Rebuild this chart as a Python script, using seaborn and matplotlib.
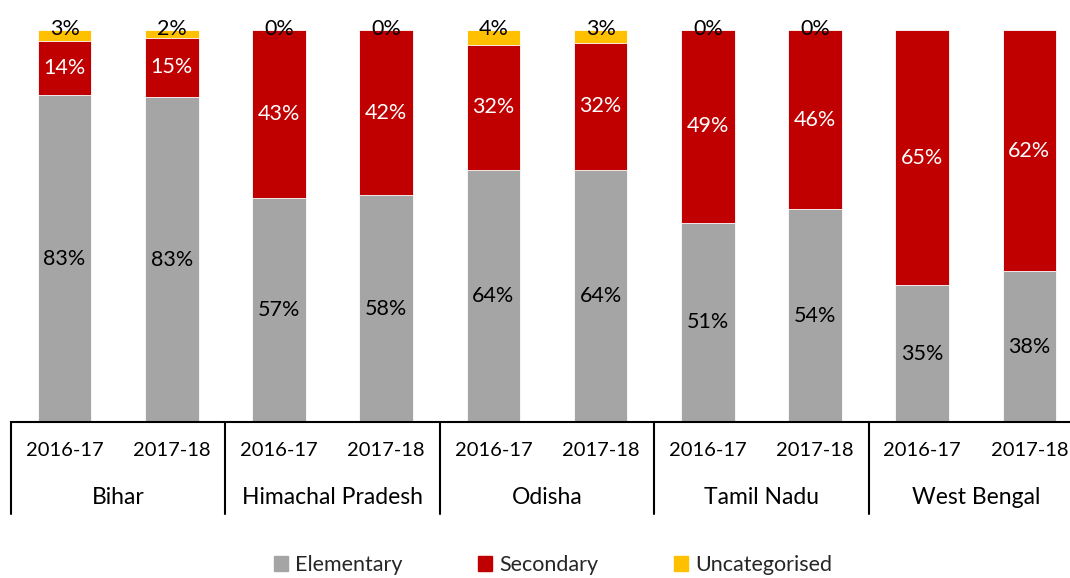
import pandas as pd
import seaborn as sns
import matplotlib.pyplot as plt
from matplotlib.patches import Patch

# Data (shares in %)
states = ['Bihar', 'Himachal Pradesh', 'Odisha', 'Tamil Nadu', 'West Bengal']
years = ['2016-17', '2017-18']
elementary = [83.4, 82.9, 57.1, 57.9, 64.3, 64.3, 50.8, 54.3, 34.9, 38.4]
secondary = [13.8, 15.1, 42.9, 42.1, 31.9, 32.4, 49.2, 45.7, 65.1, 61.6]
uncategorised = [2.8, 2.0, 0.0, 0.0, 3.8, 3.3, 0.0, 0.0, None, None]

c_elem = '#A5A5A5'
c_sec = '#C00000'
c_unc = '#FFC000'

rows = []
for i, st in enumerate(states):
    for j, yr in enumerate(years):
        k = i * 2 + j
        unc = uncategorised[k] or 0.0
        rows.append({'key': f'{st} {yr}', 'state': st, 'year': yr,
                     'elem': elementary[k], 'sec': secondary[k], 'unc': unc})
df = pd.DataFrame(rows)
df['cum_sec'] = df['elem'] + df['sec']
df['cum_unc'] = df['cum_sec'] + df['unc']
order = list(df['key'])

sns.set_style('white')
plt.rcParams['font.family'] = ['Lato', 'DejaVu Sans']

fig = plt.figure(figsize=(10.7, 5.78), dpi=100)
ax = fig.add_axes([11 / 1070, 156 / 578, 1072 / 1070, 392 / 578])

bar_kw = dict(order=order, width=0.5, edgecolor='white', linewidth=0.6, ax=ax)
sns.barplot(data=df, x='key', y='cum_unc', color=c_unc, saturation=1, **bar_kw)
sns.barplot(data=df, x='key', y='cum_sec', color=c_sec, saturation=1, **bar_kw)
sns.barplot(data=df, x='key', y='elem', color=c_elem, saturation=1, **bar_kw)

ax.set_xlim(-0.5, len(order) - 0.5)
ax.set_ylim(0, 100)
ax.set_xlabel('')
ax.set_ylabel('')
ax.set_yticks([])
ax.set_xticks([])
for s in ['top', 'right', 'left']:
    ax.spines[s].set_visible(False)
ax.spines['bottom'].set_color('black')
ax.spines['bottom'].set_linewidth(1.5)

fs = 15.5
# segment labels
for k, r in df.iterrows():
    ax.text(k, r['elem'] / 2, f"{round(r['elem'])}%", ha='center', va='center',
            fontsize=fs, color='black')
    ax.text(k, r['elem'] + r['sec'] / 2, f"{round(r['sec'])}%", ha='center', va='center',
            fontsize=fs, color='white')
    if uncategorised[k] is not None:
        ax.text(k, 100.3, f"{round(uncategorised[k])}%", ha='center', va='center',
                fontsize=fs, color='black')

# two-level category axis
trans = ax.get_xaxis_transform()
for k, r in df.iterrows():
    ax.text(k, -28 / 392, r['year'], transform=trans, ha='center', va='center',
            fontsize=14.5, color='black')
for i, st in enumerate(states):
    ax.text(i * 2 + 0.5, -75 / 392, st, transform=trans, ha='center', va='center',
            fontsize=16.5, color='black')
for x in [i * 2 - 0.5 for i in range(len(states) + 1)]:
    ax.plot([x, x], [0, -92 / 392], transform=trans, color='black', lw=1.5,
            clip_on=False)

handles = [Patch(color=c_elem, label='Elementary'),
           Patch(color=c_sec, label='Secondary'),
           Patch(color=c_unc, label='Uncategorised')]
fig.legend(handles=handles, loc='center', bbox_to_anchor=(553 / 1070, 13 / 578),
           ncol=3, frameon=False, fontsize=15.5, handlelength=0.65, handleheight=0.65,
           handletextpad=0.35, columnspacing=3.5)

fig.savefig('out.png', dpi=100)
